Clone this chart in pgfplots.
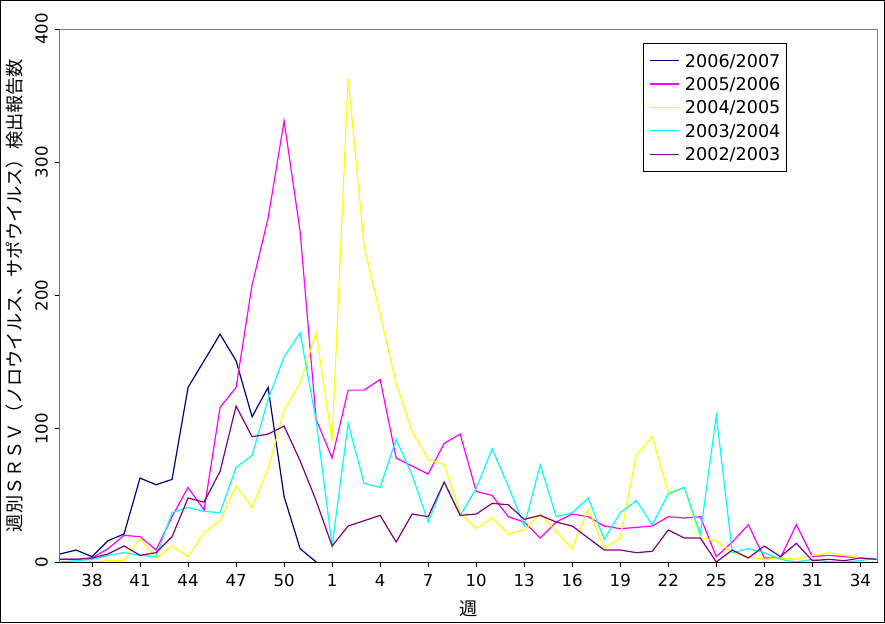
\documentclass[border=0pt]{standalone}
\usepackage{pgfplots}
\pgfplotsset{compat=1.18}
\usepackage{fontspec}
\setmainfont{DejaVu Sans}
\newfontfamily\cjk{Noto Sans CJK JP}
\definecolor{s0607}{RGB}{0,0,128}
\definecolor{s0506}{RGB}{255,0,255}
\definecolor{s0405}{RGB}{255,255,0}
\definecolor{s0304}{RGB}{0,255,255}
\definecolor{s0203}{RGB}{128,0,128}

% index 0 = week 36, index 16 = week 52, index 17 = week 1, ..., index 51 = week 35
\begin{document}
\begin{tikzpicture}
\begin{axis}[
  at={(0pt,0pt)}, anchor=south west,
  scale only axis, width=409pt, height=266.5pt,
  xmin=0, xmax=51.1, ymin=0, ymax=400,
  xtick={2,5,...,50},
  xticklabels={38,41,44,47,50,1,4,7,10,13,16,19,22,25,28,31,34},
  ytick={0,100,200,300,400},
  tick pos=left, tick align=outside,
  major tick length=2.5pt,
  tick style={black, line width=0.5pt},
  axis line style={gray, line width=0.5pt},
  /pgf/number format/assume math mode=true,
  ticklabel style={font=\fontsize{8.3}{10}\selectfont},
  yticklabel style={rotate=90, anchor=south},
  xlabel={\cjk\fontsize{9.1}{11}\selectfont 週},
  ylabel={\cjk\fontsize{9.1}{11}\selectfont 週別ＳＲＳＶ（ノロウイルス、サポウイルス）検出報告数},
  ylabel style={xshift=0pt, yshift=-1pt},
  legend cell align=left,
  legend image code/.code={\draw[#1] (0pt,0pt) -- (14.5pt,0pt);},
  legend style={at={(rel axis cs:0.713,0.974)}, anchor=north west,
    draw=black, line width=0.5pt, fill=white,
    font=\fontsize{8.8}{10}\selectfont,
    inner xsep=2.85pt, inner ysep=5.35pt, row sep=5.2pt, column sep=2.65pt,
    nodes={inner sep=0pt, text height=6.5pt, text depth=0pt}},
  every axis plot/.append style={line width=0.6pt},
]
\addplot[s0607] coordinates {
(0,6)(1,9)(2,4)(3,16)(4,21)(5,63)(6,58)(7,62)(8,131)(9,151)(10,171)(11,151)(12,109)(13,131)(14,49)(15,10)(16,0)
};
\addplot[s0506] coordinates {
(0,2)(1,2)(2,3)(3,10)(4,20)(5,19)(6,9)(7,34)(8,56)(9,39)(10,116)(11,131)(12,208)(13,258)(14,331)(15,248)(16,107)
(17,78)(18,129)(19,129)(20,137)(21,78)(22,72)(23,66)(24,89)(25,96)(26,53)(27,50)(28,34)(29,30)(30,18)(31,30)(32,36)(33,34)
(34,27)(35,25)(36,26)(37,27)(38,34)(39,33)(40,34)(41,4)(42,15)(43,28)(44,3)(45,3)(46,28)(47,4)(48,5)(49,4)(50,3)(51,2)
};
\addplot[s0405] coordinates {
(0,0)(1,0)(2,0)(3,1)(4,1)(5,18)(6,3)(7,12)(8,4)(9,22)(10,31)(11,57)(12,41)(13,70)(14,114)(15,134)(16,172)
(17,91)(18,363)(19,237)(20,186)(21,134)(22,98)(23,77)(24,73)(25,37)(26,25)(27,33)(28,21)(29,24)(30,36)(31,23)(32,10)(33,40)
(34,10)(35,18)(36,80)(37,94)(38,52)(39,56)(40,18)(41,16)(42,7)(43,4)(44,2)(45,3)(46,2)(47,5)(48,7)(49,5)(50,3)(51,2)
};
\addplot[s0304] coordinates {
(0,0)(1,1)(2,2)(3,5)(4,7)(5,5)(6,4)(7,37)(8,41)(9,38)(10,37)(11,71)(12,80)(13,122)(14,154)(15,172)(16,106)
(17,12)(18,104)(19,59)(20,56)(21,92)(22,65)(23,30)(24,60)(25,35)(26,55)(27,85)(28,57)(29,27)(30,73)(31,34)(32,37)(33,48)
(34,17)(35,37)(36,46)(37,28)(38,51)(39,56)(40,21)(41,110)(42,7)(43,10)(44,7)(45,2)(46,0)(47,2)(48,0)(49,0)(50,1)(51,3)
};
\addplot[s0203] coordinates {
(0,2)(1,2)(2,3)(3,6)(4,12)(5,5)(6,7)(7,19)(8,48)(9,45)(10,68)(11,117)(12,94)(13,96)(14,102)(15,76)(16,46)
(17,12)(18,27)(19,31)(20,35)(21,15)(22,36)(23,34)(24,60)(25,35)(26,36)(27,44)(28,43)(29,32)(30,35)(31,30)(32,27)(33,18)
(34,9)(35,9)(36,7)(37,8)(38,24)(39,18)(40,18)(41,0)(42,9)(43,3)(44,12)(45,4)(46,14)(47,1)(48,2)(49,1)(50,3)(51,2)
};
\legend{2006/2007,2005/2006,2004/2005,2003/2004,2002/2003}
\draw[black, line width=0.5pt] (rel axis cs:0,1) -- (rel axis cs:0,0) -- (rel axis cs:1,0);
\end{axis}
\draw[black, line width=0.5pt] (-29.75pt,-30.25pt) rectangle (412.25pt,280.75pt);
\pgfresetboundingbox
\path[use as bounding box] (-30pt,-30.5pt) rectangle (412.5pt,281pt);
\end{tikzpicture}
\end{document}
